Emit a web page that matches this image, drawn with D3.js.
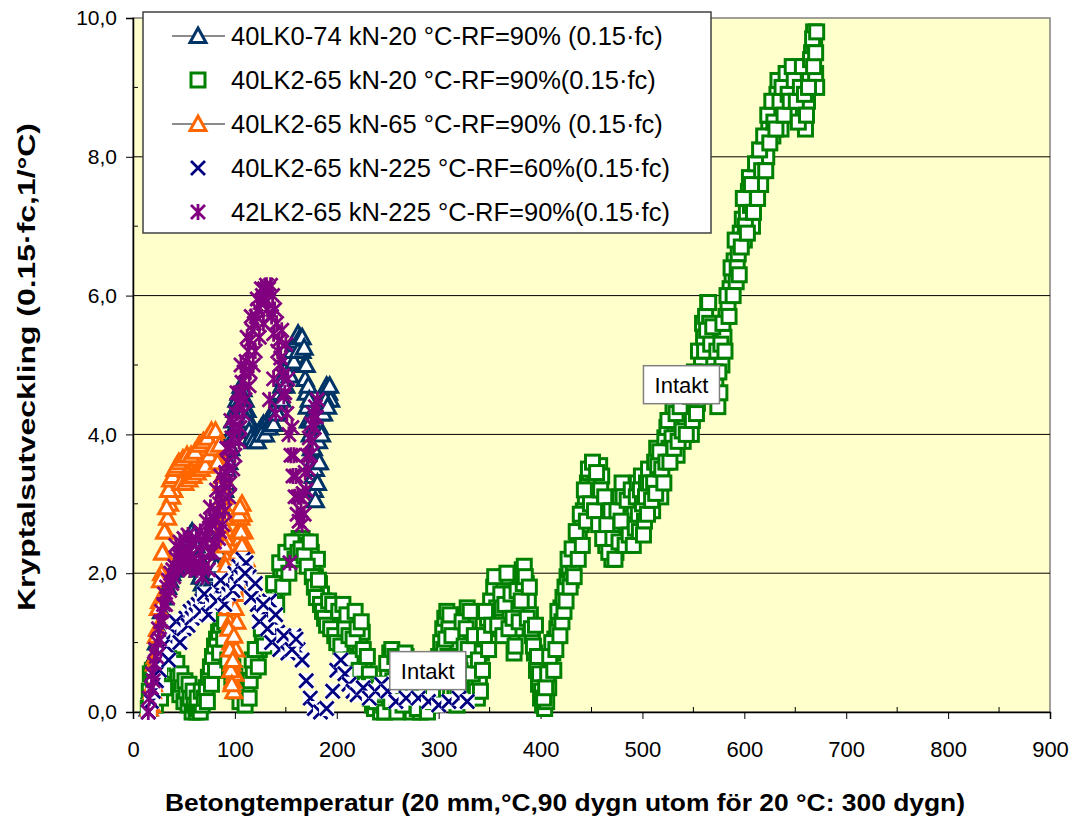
<!DOCTYPE html>
<html>
<head>
<meta charset="utf-8">
<script src="https://cdn.jsdelivr.net/npm/d3@7"></script>
<style>
body{margin:0;background:#fff;}
text{font-family:Arial,"Liberation Sans",sans-serif;fill:#000;}
</style>
</head>
<body>
<div id="chart"></div>
<script>
// values: [dygn, kryptalsutveckling]
const lk0_74_20 = [[15,0.05],[17,0.3],[19,0.55],[21,0.8],[23,1.0],[25,1.2],[28,1.45],[31,1.65],[34,1.8],[36,1.9],[38,2.0],[40,2.05],[42,2.1],[44,2.15],[46,2.2],[48,2.3],[50,2.35],[52,2.4],[54,2.5],[56,2.55],[58,2.6],[60,2.55],[62,2.4],[64,2.25],[66,2.1],[68,2.0],[70,1.95],[72,1.9],[74,1.85],[76,1.9],[78,1.95],[80,2.0],[82,2.1],[84,2.3],[86,2.6],[88,2.9],[90,3.2],[92,3.5],[94,3.8],[96,4.0],[98,4.2],[100,4.35],[102,4.5],[104,4.6],[106,4.7],[108,4.65],[110,4.5],[112,4.35],[114,4.2],[116,4.1],[118,4.0],[120,3.95],[122,4.0],[124,4.05],[126,4.1],[128,4.15],[130,4.1],[132,4.2],[134,4.25],[136,4.2],[138,4.3],[140,4.35],[142,4.45],[144,4.6],[146,4.7],[148,4.8],[150,4.9],[152,5.0],[154,5.1],[156,5.2],[158,5.3],[160,5.35],[162,5.45],[164,5.4],[166,5.2],[168,5.0],[169,4.8],[170,4.6],[171,4.4],[172,4.2],[174,4.0],[175,3.8],[176,3.6],[177,3.4],[178,3.2],[179,3.05],[180,3.3],[181,3.6],[182,3.9],[183,4.1],[184,4.3],[186,4.45],[188,4.55],[190,4.7],[192,4.6],[194,4.5],
[58,2.35],[60,2.3],[62,2.2],[64,2.05],[66,1.95],[68,1.85],[70,1.8],[72,1.75],[74,1.75],[92,3.3],[94,3.6],[96,3.8],[98,3.95],[100,4.1],[102,4.25],[104,4.4],[106,4.5],[108,4.5],[110,4.35],[112,4.2],[114,4.05],[116,3.95],[118,3.9],[122,3.9],[126,4.0],[130,4.0],[134,4.1],[138,4.15],[142,4.3],[146,4.5],[150,4.7],[154,4.85],[158,5.05],[162,5.2],[166,5.4],[168,5.25],[170,5.0],[172,4.7],[173,4.5],[175,4.2],[177,3.8],[179,3.5],[181,3.3],[183,3.6],[185,4.0],[187,4.3],[189,4.5],[191,4.4],[193,4.7]];

const lk2_65_20 = [[15,0.05],[16,0.3],[17,0.55],[18,0.2],[20,0.4],[22,0.1],[24,0.45],[26,0.7],[28,0.5],[30,0.6],[32,0.8],[34,0.55],[36,0.7],[38,0.45],[40,0.6],[42,0.35],[44,0.5],[46,0.25],[48,0.4],[50,0.15],[52,0.3],[54,0.1],[56,0.2],[58,0.0],[60,0.1],[62,0.0],[64,0.05],[66,0.0],[68,0.1],
[19,0.6],[23,0.3],[27,0.2],[31,0.35],[35,0.9],[39,0.75],[43,0.7],[47,0.55],[51,0.45],[55,0.4],[59,0.3],[63,0.2],[67,0.3],
[70,0.2],[72,0.35],[74,0.5],[76,0.65],[78,0.8],[80,0.95],[82,1.05],[84,1.15],[86,1.25],[88,1.35],[90,1.3],[92,1.1],[94,0.95],[96,0.8],[98,0.65],[100,0.55],[103,0.45],[106,0.35],[109,0.3],[112,0.35],[115,0.45],[118,0.6],[121,0.75],[124,0.9],[127,1.05],[130,1.2],[133,1.35],[136,1.5],[139,1.65],[142,1.8],[145,1.95],[148,2.05],[151,2.15],[154,2.25],[157,2.35],[160,2.45],[163,2.5],[166,2.5],[169,2.45],[172,2.4],[175,2.3],[177,2.1],[179,1.95],[181,2.2],[183,1.85],[185,1.7],[187,1.6],[189,1.5],[191,1.55],[193,1.4],[195,1.45],[197,1.3],[199,1.5],[201,1.35],[203,1.2],[205,1.45],[207,1.1],[209,1.3],[211,1.0],[213,0.9],[215,1.25],[217,1.35],[219,1.0],[221,0.8],[223,0.95],[225,1.15],[227,0.7],[229,0.5],[231,0.35],[233,0.2],[235,0.1],[237,0.05],[240,0.15],[243,0.0],[246,0.1],
[73,0.15],[77,0.4],[81,0.6],[85,0.85],[89,1.05],[93,0.75],[97,0.5],[101,0.3],[105,0.15],[110,0.1],[114,0.2],[117,0.75],[120,0.9],[123,0.65],[126,1.2],[129,0.95],[132,1.5],[135,1.25],[138,1.85],[141,1.55],[144,2.15],[147,1.8],[150,2.3],[153,2.0],[156,2.45],[159,2.2],[162,2.3],[165,2.35],[168,2.25],[171,2.1],[174,2.45],[176,1.95],[178,1.8],[180,1.65],[182,1.9],[184,1.55],[186,1.45],[188,1.35],[190,1.25],[192,1.6],[194,1.2],[196,1.55],[198,1.1],[200,1.0],[202,1.45],[204,0.95],[206,1.55],[208,1.2],[210,1.4],[212,1.1],[214,0.75],[216,1.05],[218,1.45],[220,1.2],[222,0.6],[224,1.3],[226,0.9],[228,0.4],[230,0.8],[232,0.55],[234,0.4],[236,0.25],[238,0.15],[241,0.35],[244,0.25],[247,0.0],
[248,0.3],[250,0.6],[252,0.85],[254,0.9],[256,0.7],[258,0.5],[260,0.2],[262,0.05],[264,0.3],[266,0.6],[268,0.8],[270,0.5],[272,0.2],[274,0.0],[276,0.1],[278,0.35],[280,0.15],[282,0.0],[285,0.05],[288,0.2],[291,0.1],
[249,0.7],[251,0.4],[253,0.15],[255,0.45],[257,0.8],[259,0.0],[261,0.35],[263,0.6],[265,0.1],[267,0.85],[269,0.3],[271,0.65],[273,0.45],[275,0.25],[277,0.55],[279,0.05],[281,0.4],[283,0.25],[286,0.35],[289,0.0],[292,0.45],[295,0.15],[298,0.3],
[294,0.3],[297,0.55],[300,0.8],[302,1.0],[304,1.2],[306,1.35],[308,1.45],[310,1.2],[312,0.9],[314,0.6],[316,0.3],[318,0.1],[320,0.4],[322,0.8],[324,1.1],[326,1.4],[328,1.5],[330,1.3],[332,1.0],[334,0.7],[336,0.4],[338,0.2],[340,0.5],[342,0.85],
[301,0.5],[303,0.7],[305,0.9],[307,1.05],[309,0.8],[311,1.4],[313,1.1],[315,0.45],[317,0.7],[319,0.25],[321,0.6],[323,1.3],[325,0.95],[327,1.2],[329,0.9],[331,1.45],[333,0.55],[335,1.1],[337,0.3],[339,0.75],[341,0.3],[343,0.6],
[345,1.1],[348,1.35],[351,1.6],[354,1.8],[357,1.5],[360,1.2],[362,1.5],[364,1.8],[366,1.95],[368,1.7],[370,1.4],[372,1.1],[374,0.85],[376,1.2],[378,1.55],[380,1.9],[382,2.05],[384,2.1],[386,1.85],[388,1.6],[390,1.4],[392,1.1],[394,0.85],[396,0.6],
[346,1.45],[349,0.9],[352,1.25],[355,1.95],[358,1.25],[361,1.7],[363,1.1],[365,1.55],[367,2.0],[369,1.2],[371,1.7],[373,1.35],[375,0.95],[377,1.75],[379,1.3],[381,1.6],[383,1.85],[385,1.95],[387,1.35],[389,1.8],[391,1.2],[393,0.95],[395,1.25],[397,0.8],
[398,0.4],[400,0.2],[402,0.1],[404,0.05],[406,0.15],[408,0.35],[410,0.6],[412,0.85],[414,1.05],[416,1.2],[418,1.35],[420,1.5],[422,1.65],
[399,0.55],[401,0.3],[403,0.2],[405,0.35],[407,0.55],[409,0.8],[411,1.0],[413,0.6],[415,0.9],[417,1.45],[419,1.1],[421,1.3],[423,1.45],
[424,1.8],[426,1.95],[428,2.05],[430,1.9],[432,2.1],[434,2.25],[436,2.4],[438,2.55],[440,2.7],[442,2.9],[444,3.1],[446,3.3],[448,3.45],[450,3.2],[452,3.5],[454,3.35],[456,3.0],[458,3.55],[460,3.4],[462,2.8],[464,2.4],[466,2.9],[468,2.5],[470,2.2],[472,2.7],[474,2.3],[476,2.6],[478,3.1],[480,3.3],[482,2.9],[484,2.6],[486,2.8],[488,3.0],[490,2.7],[492,2.9],
[425,1.6],[427,2.2],[429,1.8],[431,2.35],[433,1.95],[435,2.6],[437,2.2],[439,2.85],[441,2.4],[443,3.2],[445,2.75],[447,3.5],[449,3.0],[451,3.6],[453,2.9],[455,3.45],[457,2.7],[459,3.2],[461,2.5],[463,3.1],[465,2.7],[467,2.3],[469,2.9],[471,2.5],[473,2.2],[475,2.9],[477,2.45],[479,2.75],[481,3.1],[483,2.4],[485,3.05],[487,2.55],[489,3.2],[491,2.4],[493,2.65],[495,3.3],[497,2.6],[499,3.4],
[494,3.1],[496,2.85],[498,3.2],[500,3.0],[502,2.75],[504,3.3],[506,3.5],[508,3.2],[510,2.9],[512,3.6],[514,3.8],[516,3.4],[518,3.1],[520,3.7],[522,3.95],[524,4.1],[526,3.8],[528,4.2],[530,4.35],[532,4.0],[534,3.7],[536,4.1],[538,4.3],[540,3.9],[542,4.2],[544,4.5],[546,4.3],[548,4.0],[550,4.4],[552,4.7],[554,4.45],[556,4.8],[558,5.1],
[501,2.55],[503,3.1],[505,2.85],[507,3.3],[509,3.05],[511,3.3],[513,3.15],[515,3.55],[517,3.75],[519,3.5],[521,3.3],[523,3.6],[525,4.2],[527,3.6],[529,3.95],[531,3.8],[533,4.3],[535,3.9],[537,4.4],[539,4.05],[541,4.6],[543,4.0],[545,4.7],[547,4.55],[549,4.2],[551,4.9],[553,4.3],[555,5.2],[557,4.55],[559,5.6],
[560,5.4],[562,5.7],[564,5.9],[566,5.6],[568,5.3],[570,5.0],[572,4.7],[574,4.4],[576,4.6],[578,5.0],[580,5.4],[582,5.7],[584,5.9],[586,6.1],[588,6.3],[590,6.5],[592,6.2],[594,6.6],[596,6.9],[598,7.1],[600,6.8],[602,7.2],[604,7.5],[606,7.3],[608,7.0],[610,7.4],[612,7.7],[614,7.9],[616,7.6],[618,8.0],[620,8.2],[622,8.0],[624,8.4],[626,8.6],[628,8.3],[630,8.7],[632,8.9],[634,8.6],[636,8.4],[638,8.8],[640,9.0],[642,8.7],[644,9.1],[646,9.2],[648,8.9],[650,8.6],[652,9.0],[654,9.3],[656,9.1],[658,8.7],[660,8.4],[662,8.8],[664,9.2],[666,9.5],[668,9.8],[669,9.6],[670,9.2],[671,9.0],
[561,5.2],[563,5.5],[565,5.9],[567,5.3],[569,5.55],[571,4.9],[573,5.2],[575,4.9],[577,5.3],[579,5.6],[581,5.2],[583,6.0],[585,5.7],[587,6.4],[589,6.0],[591,6.8],[593,6.4],[595,6.3],[597,6.7],[599,7.4],[601,7.0],[603,6.9],[605,7.7],[607,7.6],[609,7.2],[611,7.9],[613,7.4],[615,8.1],[617,7.8],[619,8.3],[621,7.8],[623,8.6],[625,8.2],[627,8.8],[629,8.5],[631,8.4],[633,9.1],[635,8.8],[637,9.0],[639,8.6],[641,9.2],[643,8.9],[645,8.8],[647,9.3],[649,9.1],[651,8.8],[653,8.5],[655,9.0],[657,9.3],[659,8.9],[661,8.6],[663,9.0],[665,9.4],[667,9.7],[668,9.3],[670,9.5],[671,9.8]];

const lk2_65_65 = [[16,0.05],[18,0.1],[20,0.4],[22,0.8],[24,1.2],[26,1.6],[28,2.0],[30,2.3],[32,2.6],[34,2.8],[36,3.0],[38,3.1],[40,3.2],[42,3.3],[44,3.35],[46,3.4],[48,3.45],[50,3.5],[52,3.5],[54,3.55],[56,3.5],[58,3.55],[60,3.6],[62,3.6],[64,3.65],[66,3.7],[68,3.75],[70,3.7],[72,3.8],[74,3.85],[76,3.9],[78,3.95],[80,4.0],[82,3.9],[84,3.75],[86,3.6],[88,3.4],[89,3.1],[90,2.8],[91,2.5],[92,2.2],[93,1.9],[94,1.6],[95,1.3],[96,1.0],[97,0.7],[98,0.45],[99,0.3],[100,0.55],[101,0.9],[102,1.3],[103,1.7],[104,2.1],[105,2.5],[106,2.8],[107,3.0],[108,2.85],[109,2.6],[110,2.4],[111,2.2],
[19,0.3],[21,0.7],[23,1.1],[25,1.5],[27,1.9],[29,2.3],[31,2.6],[33,2.95],[35,3.2],[37,3.35],[39,3.4],[41,3.5],[43,3.55],[45,3.6],[47,3.3],[49,3.65],[51,3.3],[53,3.7],[55,3.35],[57,3.7],[59,3.4],[61,3.75],[63,3.45],[65,3.85],[67,3.5],[69,3.9],[71,3.55],[73,3.95],[75,3.7],[77,4.05],[79,3.8],[81,4.05],[83,3.6],[85,3.85],[87,3.3],[88,3.0],[89,2.7],[90,2.4],[91,2.1],[92,1.8],[93,1.5],[94,1.2],[95,0.9],[96,0.6],[97,0.4],[98,0.75],[99,1.1],[100,1.5],[101,1.9],[102,2.3],[103,2.6],[104,2.85],[105,2.95],[106,2.6],[107,2.4],[108,2.1]];

const lk2_65_225_60 = [[15,0.0],[18,0.15],[20,0.3],[23,0.45],[26,0.6],[30,0.8],[33,0.95],[36,1.05],[40,1.15],[44,1.1],[48,1.25],[52,1.35],[56,1.45],[60,1.5],[64,1.55],[68,1.6],[72,1.5],[76,1.65],[80,1.7],[84,1.75],[88,1.65],[92,1.8],[96,1.9],[100,2.0],[104,2.1],[108,2.2],[111,2.15],[114,1.95],[118,1.75],[122,1.55],[126,1.4],[130,1.45],[134,1.6],[138,1.3],[142,1.15],[146,1.0],[150,0.95],[154,1.05],[158,1.1],[162,0.9],[166,0.75],[170,0.45],[174,0.2],[178,0.05],[184,0.0],[190,0.05],[196,0.3],[200,0.6],[204,0.75],[208,0.55],[212,0.4],[216,0.3],[220,0.25],[226,0.35],[232,0.2],[238,0.3],[244,0.4],[250,0.3],[258,0.15],[268,0.2],[280,0.2],[290,0.15],[300,0.1],[310,0.15],[320,0.2],[328,0.15],
[35,0.75],[42,1.3],[46,1.0],[50,1.2],[54,1.25],[58,1.35],[62,1.4],[66,1.45],[70,1.7],[74,1.4],[78,1.55],[82,1.6],[86,1.9],[90,1.55],[94,1.7],[98,1.75],[102,1.85],[106,1.95],[110,2.0],[116,1.65],[120,1.85],[124,1.3],[128,1.55],[132,1.2],[136,1.0],[140,1.4],[144,0.9],[148,1.1],[152,0.85],[156,0.9],[160,1.05]];

const lk42_65_225_90 = [[15,0.0],[16,0.2],[18,0.35],[19,0.55],[21,0.7],[22,0.9],[24,1.0],[25,1.2],[27,1.3],[28,1.45],[30,1.55],[31,1.7],[33,1.8],[35,1.9],[37,2.0],[39,2.05],[41,2.1],[43,2.2],[45,2.25],[47,2.2],[49,2.3],[51,2.25],[53,2.35],[55,2.3],[57,2.25],[59,2.2],[61,2.1],[63,2.05],[65,2.15],[67,2.3],[69,2.45],[71,2.55],[73,2.5],[75,2.65],[77,2.7],[79,2.8],[81,2.75],[83,2.9],[85,3.0],[87,3.15],[89,3.3],[91,3.45],[93,3.6],[95,3.8],[97,3.95],[99,4.1],[101,4.3],[103,4.45],[105,4.6],[107,4.75],[109,4.9],[111,5.05],[113,5.2],[115,5.35],[117,5.5],[119,5.6],[121,5.7],[123,5.8],[125,5.9],[127,6.0],[129,6.1],[131,6.15],[133,6.1],[135,6.15],[137,6.0],[139,5.8],[141,5.6],[143,5.35],[145,5.1],[147,4.85],[149,4.6],[151,4.3],[153,4.0],[155,3.7],[157,3.4],[159,3.1],[161,2.85],[163,2.75],[165,2.9],[167,3.15],[169,3.45],[171,3.7],[173,3.95],[175,4.15],[177,4.3],[179,4.4],[181,4.5],
[134,4.5],[138,4.8],[142,5.2],[146,5.5],[150,5.3],[140,4.3],[148,4.55],[154,2.15],[95,3.3],[100,3.7],[105,4.1],[110,4.5],[115,4.9],[120,5.2],[70,2.1],[75,2.3],[80,2.45],[85,2.6],[90,2.9],
[20,0.45],[23,0.8],[26,1.05],[29,1.3],[32,1.55],[34,1.65],[36,1.75],[38,1.85],[40,1.95],[42,2.4],[44,2.05],[46,2.45],[48,2.1],[50,2.5],[52,2.1],[54,2.55],[56,2.05],
[58,2.45],[62,2.5],[66,2.6],[68,1.95],[72,2.75],[74,2.05],[76,2.95],[78,2.3],[82,3.2],[84,2.5],[86,3.4],[88,2.7],[92,3.8],[94,3.1],[96,4.2],[98,3.5],[102,4.6],[104,3.9],[106,5.0],[108,4.3],[112,5.4],[114,4.7],[116,5.7],[118,5.0],[122,5.95],[124,5.4],[126,6.1],[128,5.6],[130,5.95],[132,5.8],[136,5.7],[138,5.45],[144,5.0],[152,4.8],[156,4.1],[158,3.7],[160,3.4],[162,3.1],[164,3.1],[166,2.7],[168,2.85],[170,3.2],[172,3.5],[174,3.7],[176,3.9],[178,4.1],[180,4.25]];

const seriesNames = [
	"40LK0-74 kN-20 °C-RF=90% (0.15·fc)",
	"40LK2-65 kN-20 °C-RF=90%(0.15·fc)",
	"40LK2-65 kN-65 °C-RF=90% (0.15·fc)",
	"40LK2-65 kN-225 °C-RF=60%(0.15·fc)",
	"42LK2-65 kN-225 °C-RF=90%(0.15·fc)"
];
const seriesColors = ["#003366","#008000","#ff6600","#000080","#800080"];
const seriesMarkers = ["triangle","square","triangle","cross","star"];
const seriesLines = [true,false,true,false,false];
const seriesData = [lk0_74_20, lk2_65_20, lk2_65_65, lk2_65_225_60, lk42_65_225_90];
const xTicks = [0,100,200,300,400,500,600,700,800,900];
const yTicks = [0,2,4,6,8,10];

const width = 1079, height = 821;
const padd = {left: 133, right: 29, top: 18, bottom: 109};

const svg = d3.select("#chart").append("svg")
	.attr("width", width)
	.attr("height", height);

const xScale = d3.scaleLinear().domain([0,900]).range([padd.left, width-padd.right]);
const yScale = d3.scaleLinear().domain([0,10]).range([height-padd.bottom, padd.top]);

//plot area
svg.append("rect")
	.attr("x", xScale(0)).attr("y", yScale(10))
	.attr("width", xScale(900)-xScale(0)).attr("height", yScale(0)-yScale(10))
	.attr("fill", "#ffffcc")
	.attr("stroke", "#808080").attr("stroke-width", 1.5);

//gridlines
svg.append("g").selectAll("line")
	.data([2,4,6,8])
	.enter().append("line")
	.attr("x1", xScale(0)).attr("x2", xScale(900))
	.attr("y1", d => yScale(d)).attr("y2", d => yScale(d))
	.attr("stroke", "#000").attr("stroke-width", 1);

//Y axis
const yAxis = d3.axisLeft(yScale)
	.tickValues(yTicks)
	.tickFormat(d => d3.format(".1f")(d).replace(".", ","))
	.tickSize(7)
	.tickPadding(9);
const yg = svg.append("g")
	.attr("transform", `translate(${xScale(0)},0)`)
	.call(yAxis);
yg.selectAll("text").attr("font-size", 21).attr("font-family", "Arial, 'Liberation Sans', sans-serif");
svg.append("g").selectAll("line")
	.data([1,3,5,7,9])
	.enter().append("line")
	.attr("x1", xScale(0)).attr("x2", xScale(0)+5)
	.attr("y1", d => yScale(d)).attr("y2", d => yScale(d))
	.attr("stroke", "#000");

//X axis
const xAxis = d3.axisBottom(xScale)
	.tickValues(xTicks)
	.tickSize(7)
	.tickPadding(22);
const xg = svg.append("g")
	.attr("transform", `translate(0,${yScale(0)})`)
	.call(xAxis);
xg.selectAll("text").attr("font-size", 22).attr("font-family", "Arial, 'Liberation Sans', sans-serif");
svg.append("g").selectAll("line")
	.data([50,150,250,350,450,550,650,750,850])
	.enter().append("line")
	.attr("x1", d => xScale(d)).attr("x2", d => xScale(d))
	.attr("y1", yScale(0)).attr("y2", yScale(0)-5)
	.attr("stroke", "#000");
yg.select(".domain").attr("stroke-width", 1.5);
xg.select(".domain").attr("stroke-width", 1.5);

//markers
function drawMarker(g, type, color)
{
	if (type === "triangle") {
		g.append("path").attr("d", "M0,-8L8,6.5L-8,6.5Z")
			.attr("fill", "#fff").attr("stroke", color).attr("stroke-width", 3);
	} else if (type === "square") {
		g.append("rect").attr("x", -7).attr("y", -7).attr("width", 14).attr("height", 14)
			.attr("fill", "#fff").attr("stroke", color).attr("stroke-width", 3);
	} else if (type === "cross") {
		g.append("rect").attr("x", -7.5).attr("y", -7.5).attr("width", 15).attr("height", 15).attr("fill", "#fff");
		g.append("path").attr("d", "M-7,-7L7,7M-7,7L7,-7")
			.attr("stroke", color).attr("stroke-width", 2.8).attr("fill", "none");
	} else {
		g.append("path").attr("d", "M0,-8L0,8M-7,-7L7,7M-7,7L7,-7")
			.attr("stroke", color).attr("stroke-width", 2.8).attr("fill", "none");
	}
}

seriesData.forEach(function(data, i) {
	const layer = svg.append("g").attr("class", "series");
	layer.selectAll("g")
		.data(data)
		.enter().append("g")
		.attr("transform", d => `translate(${xScale(d[0])},${yScale(d[1])})`)
		.each(function() { drawMarker(d3.select(this), seriesMarkers[i], seriesColors[i]); });
});

//Intakt labels
[[252,0.87],[501,4.99]].forEach(function(p) {
	const g = svg.append("g").attr("transform", `translate(${xScale(p[0])},${yScale(p[1])})`);
	g.append("rect").attr("width", 76).attr("height", 38)
		.attr("fill", "#fff").attr("stroke", "#808080").attr("stroke-width", 1.5);
	g.append("text").attr("x", 38).attr("y", 27).attr("text-anchor", "middle")
		.attr("font-size", 22).text("Intakt");
});

//legend
const legend = svg.append("g").attr("transform", "translate(143,12)");
legend.append("rect").attr("width", 568).attr("height", 221)
	.attr("fill", "#fff").attr("stroke", "#404040").attr("stroke-width", 1.5);
seriesNames.forEach(function(name, i) {
	const row = legend.append("g").attr("transform", `translate(0,${24 + i*44})`);
	if (seriesLines[i]) {
		row.append("line").attr("x1", 29).attr("x2", 82)
			.attr("stroke", "#666").attr("stroke-width", 1.5);
	}
	drawMarker(row.append("g").attr("transform", "translate(55,0)"), seriesMarkers[i], seriesColors[i]);
	row.append("text").attr("x", 88).attr("y", 8.5)
		.attr("font-size", 25.5).text(name);
});

//axis titles
svg.append("text")
	.attr("transform", `translate(35,${(yScale(0)+yScale(10))/2 + 2}) rotate(-90)`)
	.attr("text-anchor", "middle")
	.attr("font-size", 24).attr("font-weight", "bold")
	.attr("textLength", 488).attr("lengthAdjust", "spacingAndGlyphs")
	.text("Kryptalsutveckling (0.15·fc,1/°C)");
svg.append("text")
	.attr("x", 565).attr("y", 811)
	.attr("text-anchor", "middle")
	.attr("font-size", 24).attr("font-weight", "bold")
	.attr("textLength", 800).attr("lengthAdjust", "spacingAndGlyphs")
	.text("Betongtemperatur (20 mm,°C,90 dygn utom för 20 °C: 300 dygn)");
</script>
</body>
</html>
